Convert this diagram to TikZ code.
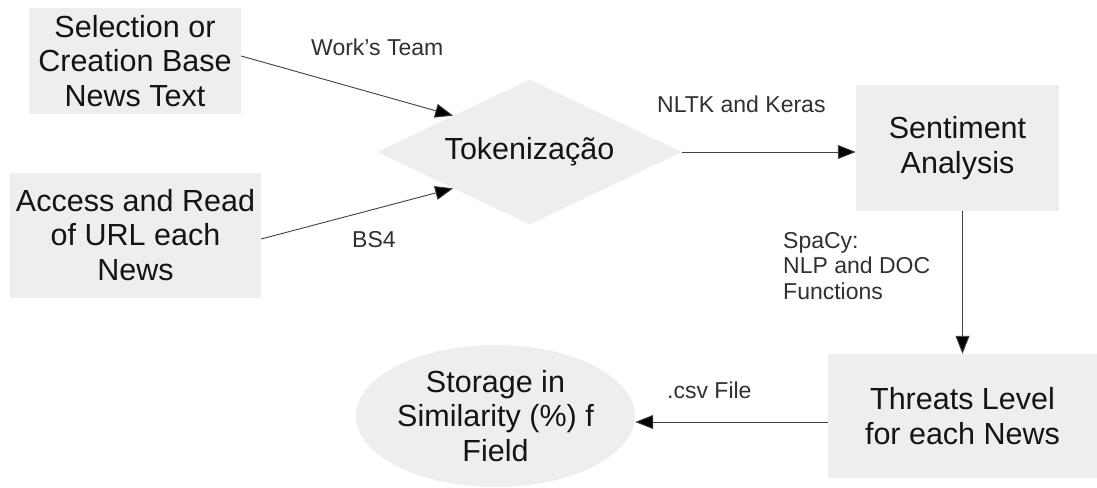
\documentclass[tikz,border=0pt]{standalone}
\usepackage{fontspec}
\setmainfont{Liberation Sans}
\usetikzlibrary{shapes.geometric,arrows.meta}
\definecolor{boxfill}{HTML}{EEEEEE}
\definecolor{boxtext}{HTML}{141414}
\definecolor{labeltext}{HTML}{303030}
\definecolor{wire}{HTML}{404040}
\tikzset{
  block/.style={rectangle, fill=boxfill, draw=none, inner sep=0pt, align=center,
    text=boxtext, font=\fontsize{30.5}{34.5}\selectfont},
  decision/.style={diamond, fill=boxfill, draw=none, inner sep=0pt, aspect=2.1,
    text=boxtext, font=\fontsize{30.5}{34.5}\selectfont},
  store/.style={ellipse, fill=boxfill, draw=none, inner sep=0pt, align=center,
    text=boxtext, font=\fontsize{30.5}{34.5}\selectfont},
  edgelabel/.style={inner sep=0pt, text=labeltext, align=left,
    font=\fontsize{23}{25.5}\selectfont},
  flow/.style={draw=wire, line width=0.9pt,
    -{Triangle[length=18pt,width=14pt,fill=black]}},
}
\begin{document}
\begin{tikzpicture}[x=1pt,y=-1pt]
\useasboundingbox (0,0) rectangle (1097,487);

% process steps
\node[block, minimum width=212pt, minimum height=106pt] (select) at (135,61)
  {Selection or\\Creation Base\\News Text};
\node[block, minimum width=251pt, minimum height=125pt] (access) at (135.5,235)
  {Access and Read\\of URL each\\News};
\node[decision, minimum width=305pt, minimum height=145pt] (token) at (529.5,152)
  {Tokenização};
\node[block, minimum width=203pt, minimum height=126pt] (sent) at (957.5,148)
  {Sentiment\\Analysis};
\node[block, minimum width=269pt, minimum height=124pt] (threat) at (962.5,416)
  {Threats Level\\for each News};
\node[store, minimum width=279pt, minimum height=142pt] (storage) at (495.5,416)
  {Storage in\\Similarity (\%) f\\Field};

% connectors
\draw[flow] ([yshift=5pt]select.east) -- (token.north west);
\draw[flow] ([yshift=-4pt]access.east) -- (token.south west);
\draw[flow] (token.east) -- (token.east -| sent.west);
\draw[flow] (threat.north |- sent.south) -- (threat.north);
\draw[flow] ([yshift=-6pt]threat.west) -- ([yshift=-6pt]threat.west -| storage.east);

% connector labels
\node[edgelabel, anchor=west] (lteam) at (311,47) {Work's Team};
\node[edgelabel, anchor=west] (lbs) at (352,240) {BS4};
\node[edgelabel, anchor=west] (lnltk) at (657,104) {NLTK and Keras};
\node[edgelabel, anchor=west] (lspacy) at (783,266) {SpaCy:\\NLP and DOC\\Functions};
\node[edgelabel, anchor=west] (lcsv) at (667,390) {.csv File};
\end{tikzpicture}
\end{document}
